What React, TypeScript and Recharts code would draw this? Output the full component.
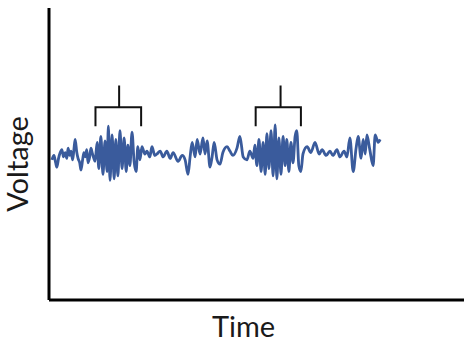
import { LineChart, Line, XAxis, YAxis } from 'recharts';

// recording: sample time (ms) and voltage (arbitrary units, 0 = baseline)
const times = [
  7, 12, 16, 19, 23, 27, 31, 35, 39, 43, 46, 50, 53, 57, 60, 63, 67, 70, 74, 77, 81, 84, 87, 91, 94, 98, 101, 104, 108, 111,
  116, 120, 125, 130, 135, 140, 143, 147, 152, 157, 161, 166, 171, 176, 181, 186, 190, 195, 200, 205, 210, 214, 219,
  224, 231, 236, 243, 248, 255, 260, 268, 275, 284, 292, 299, 311, 321, 328, 335, 340, 345, 352, 357, 364, 371, 376,
  381, 388, 393, 398, 405, 412, 419, 429, 436, 443, 453, 460, 468, 477, 484, 492,
  496, 501, 506, 511, 516, 521, 525, 530, 535, 540, 545, 549, 554, 559, 564, 569, 573, 578, 583, 588, 593, 597, 602, 607, 612,
  622, 631, 641, 651, 658, 668, 677, 684, 694, 701, 711, 718, 725, 733, 740, 745, 752, 757, 762, 766, 773, 781, 786, 793, 798,
];
const volts = [
  -4, -1, -6, -9, -3, 1, 3, -2, 1, -3, 4, -1, 2, -4, 3, 10, 1, -3, -6, -11, -4, 1, -2, 3, -6, -2, 4, 1, -3, -5,
  8, -10, 12, -14, 9, -12, 19, -18, 13, -17, 10, -15, 16, -10, 11, -12, 6, -8, 15, -5, -12, 5, -4,
  5, 0, 2, -2, 5, -1, 0, 2, -2, 2, -3, 1, -5, -1, -4, -14, -2, 8, -2, 10, 0, 11, 0,
  9, -9, -2, 8, -4, -7, 1, 5, 2, -1, 4, 12, -2, -4, 2, -3,
  6, -8, 10, -12, 8, -14, 14, -10, 16, -15, 20, -17, 11, -14, 12, -8, 10, -12, 8, -6, 12, 16, -8, -12, 0,
  5, 1, 8, 0, 3, -1, 2, -1, 3, -2, 2, -2, 11, -12, 4, 12, -3, 10, 0, 13, 3, -8, 13, 8, 10,
];

// bracket markers over the two bursts
const burst1T = [112, 112, 169, 169, 169, 222, 222];
const burst2T = [498, 498, 558, 558, 558, 607, 607];
const bracketV = [19, 32, 32, 47, 32, 32, 19];

const trace = times.map((t, i) => ({ t, v: volts[i] }));
const bracket1 = burst1T.map((t, i) => ({ t, v: bracketV[i] }));
const bracket2 = burst2T.map((t, i) => ({ t, v: bracketV[i] }));

const FONT = 'Lato, "Open Sans", sans-serif';

export default function App() {
  return (
    <div style={{ position: 'absolute', left: 0, top: 0, background: '#fff' }}>
      <LineChart width={472} height={348} margin={{ top: 8, right: 8, left: 48, bottom: 47 }}>
        <XAxis
          type="number"
          dataKey="t"
          domain={[0, 1000]}
          allowDataOverflow
          height={1}
          tick={false}
          tickLine={false}
          axisLine={{ stroke: '#000', strokeWidth: 3 }}
          label={{
            content: (p: any) => (
              <text
                x={p.viewBox.x + p.viewBox.width / 2 - 13}
                y={p.viewBox.y + 37}
                textAnchor="middle"
                fontFamily={FONT}
                fontSize={29}
                fill="#1a1a1a"
              >
                Time
              </text>
            ),
          }}
        />
        <YAxis
          type="number"
          dataKey="v"
          domain={[-100, 100]}
          allowDataOverflow
          width={1}
          tick={false}
          tickLine={false}
          axisLine={{ stroke: '#000', strokeWidth: 3 }}
          label={{
            content: (p: any) => {
              const x = p.viewBox.x - 20;
              const y = p.viewBox.y + p.viewBox.height / 2 + 10;
              return (
                <text
                  x={x}
                  y={y}
                  transform={`rotate(-90, ${x}, ${y})`}
                  textAnchor="middle"
                  fontFamily={FONT}
                  fontSize={29}
                  fill="#1a1a1a"
                >
                  Voltage
                </text>
              );
            },
          }}
        />
        <Line
          data={trace}
          dataKey="v"
          type="monotone"
          stroke="#3a5b9c"
          strokeWidth={2.8}
          dot={false}
          activeDot={false}
          isAnimationActive={false}
        />
        <Line
          data={bracket1}
          dataKey="v"
          type="linear"
          stroke="#111"
          strokeWidth={2}
          strokeLinejoin="miter"
          dot={false}
          activeDot={false}
          isAnimationActive={false}
        />
        <Line
          data={bracket2}
          dataKey="v"
          type="linear"
          stroke="#111"
          strokeWidth={2}
          strokeLinejoin="miter"
          dot={false}
          activeDot={false}
          isAnimationActive={false}
        />
      </LineChart>
    </div>
  );
}
